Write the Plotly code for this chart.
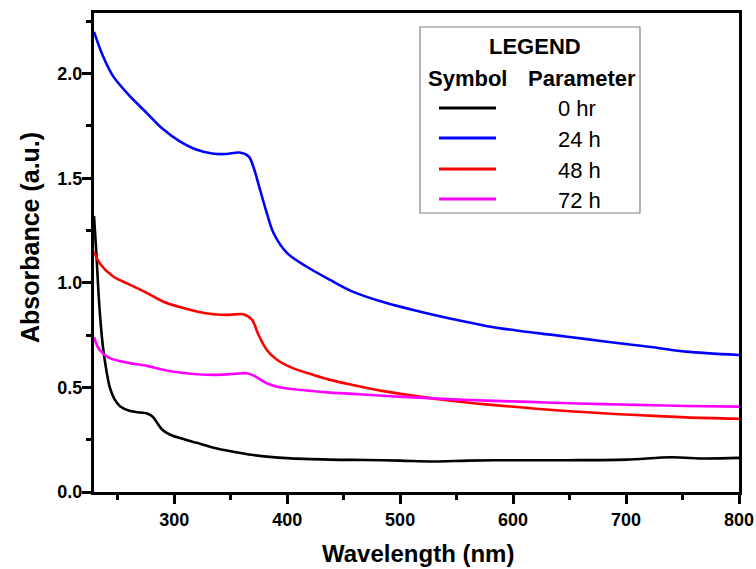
import plotly.graph_objects as go

# ---------------- data ----------------
series_names = ["0 hr", "24 h", "48 h", "72 h"]
series_colors = ["#000000", "#0000FF", "#FF0000", "#FF00FF"]

wl_0h = [229, 231, 233, 235, 237, 240, 243, 247, 252, 261, 270, 276, 281, 285, 289, 296,
         310, 320, 335, 350, 370, 400, 438, 470, 500, 530, 560, 600, 650, 700, 740, 770, 800]
abs_0h = [1.32, 1.15, 0.95, 0.80, 0.69, 0.58, 0.50, 0.445, 0.41, 0.387, 0.38, 0.375, 0.36, 0.33,
          0.30, 0.275, 0.25, 0.235, 0.212, 0.195, 0.177, 0.162, 0.155, 0.153, 0.150, 0.146,
          0.150, 0.152, 0.152, 0.155, 0.166, 0.160, 0.163]

wl_24h = [229, 237, 246, 261, 276, 290, 305, 320, 335, 346, 358, 366, 370, 376, 382, 388,
          400, 417, 438, 458, 488, 517, 547, 576, 606, 635, 665, 694, 724, 753, 800]
abs_24h = [2.20, 2.083, 1.987, 1.891, 1.810, 1.735, 1.676, 1.636, 1.617, 1.616, 1.623, 1.604,
           1.556, 1.445, 1.333, 1.237, 1.142, 1.078, 1.014, 0.958, 0.903, 0.863, 0.826, 0.794,
           0.770, 0.751, 0.731, 0.711, 0.692, 0.671, 0.655]

wl_48h = [229, 234, 246, 261, 276, 290, 305, 320, 335, 349, 361, 369, 374, 382, 391, 405,
          423, 438, 458, 488, 517, 547, 576, 606, 635, 665, 694, 724, 753, 800]
abs_48h = [1.15, 1.094, 1.030, 0.990, 0.951, 0.911, 0.884, 0.863, 0.850, 0.847, 0.850, 0.823,
           0.759, 0.679, 0.632, 0.592, 0.560, 0.536, 0.512, 0.480, 0.456, 0.435, 0.419, 0.405,
           0.392, 0.381, 0.372, 0.364, 0.357, 0.350]

wl_72h = [229, 234, 243, 261, 276, 290, 305, 320, 335, 349, 364, 371, 382, 393, 417, 438,
          458, 488, 517, 547, 576, 606, 635, 665, 694, 724, 753, 800]
abs_72h = [0.74, 0.679, 0.640, 0.616, 0.603, 0.584, 0.571, 0.563, 0.560, 0.563, 0.568, 0.555,
           0.520, 0.501, 0.485, 0.475, 0.469, 0.459, 0.451, 0.443, 0.437, 0.432, 0.427, 0.422,
           0.418, 0.415, 0.411, 0.408]

x_title = "Wavelength (nm)"
y_title = "Absorbance (a.u.)"
legend_title = "LEGEND"
legend_headers = ["Symbol", "Parameter"]

# ---------------- figure ----------------
W, H = 756, 569
L, R, T, B = 94, 17, 13, 77
FONT = "Liberation Sans, Arial, sans-serif"

def px(xp):
    return (xp - L) / (W - L - R)

def py(yp):
    return (H - B - yp) / (H - B - T)

fig = go.Figure()
xs = [wl_0h, wl_24h, wl_48h, wl_72h]
ys = [abs_0h, abs_24h, abs_48h, abs_72h]
for name, col, x, y in zip(series_names, series_colors, xs, ys):
    fig.add_trace(go.Scatter(x=x, y=y, mode="lines", name=name,
                             line=dict(color=col, width=2.6, shape="spline", smoothing=0.9),
                             showlegend=False))

axis_common = dict(showline=True, linecolor="black", linewidth=3, mirror=True,
                   ticks="outside", ticklen=9, tickwidth=2.5, tickcolor="black",
                   showgrid=False, zeroline=False, automargin=False,
                   tickfont=dict(family=FONT, size=18, color="black", weight="bold"))

fig.update_xaxes(range=[229, 800], dtick=100, tick0=0,
                 minor=dict(ticks="outside", ticklen=5, tickwidth=2.5, dtick=50, tick0=0,
                            tickcolor="black", showgrid=False),
                 **axis_common)
fig.update_yaxes(range=[0, 2.29], dtick=0.5, tick0=0, tickformat=".1f",
                 ticklabelstandoff=-4,
                 minor=dict(ticks="outside", ticklen=5, tickwidth=2.5, dtick=0.25, tick0=0,
                            tickcolor="black", showgrid=False),
                 **axis_common)

# ---------------- custom legend box & axis titles ----------------
shapes = [dict(type="rect", xref="paper", yref="paper",
               x0=px(420), x1=px(640), y0=py(213), y1=py(27),
               line=dict(color="#808080", width=1.2), fillcolor="white", layer="above")]
annotations = [
    dict(text=x_title, x=px(418), y=py(553), xref="paper", yref="paper",
         showarrow=False, xanchor="center", yanchor="middle",
         font=dict(family=FONT, size=24, color="black", weight="bold")),
    dict(text=y_title, x=px(30), y=py(238), xref="paper", yref="paper", textangle=-90,
         showarrow=False, xanchor="center", yanchor="middle",
         font=dict(family=FONT, size=25, color="black", weight="bold")),
    dict(text=legend_title, x=px(535), y=py(47), xref="paper", yref="paper",
         showarrow=False, xanchor="center", yanchor="middle",
         font=dict(family=FONT, size=22, color="black", weight="bold")),
    dict(text=legend_headers[0], x=px(467), y=py(78), xref="paper", yref="paper",
         showarrow=False, xanchor="center", yanchor="middle",
         font=dict(family=FONT, size=22, color="black", weight="bold")),
    dict(text=legend_headers[1], x=px(582), y=py(78), xref="paper", yref="paper",
         showarrow=False, xanchor="center", yanchor="middle",
         font=dict(family=FONT, size=22, color="black", weight="bold")),
]
row_y = [108, 138, 169, 199]
for name, col, yy in zip(series_names, series_colors, row_y):
    shapes.append(dict(type="line", xref="paper", yref="paper",
                       x0=px(439), x1=px(496), y0=py(yy), y1=py(yy),
                       line=dict(color=col, width=3), layer="above"))
    annotations.append(dict(text=name, x=px(556), y=py(yy + 1), xref="paper", yref="paper",
                            showarrow=False, xanchor="left", yanchor="middle",
                            font=dict(family=FONT, size=22, color="black")))

fig.update_layout(width=W, height=H, margin=dict(l=L, r=R, t=T, b=B),
                  paper_bgcolor="white", plot_bgcolor="white",
                  shapes=shapes, annotations=annotations, showlegend=False)

fig.write_html("out.html")
